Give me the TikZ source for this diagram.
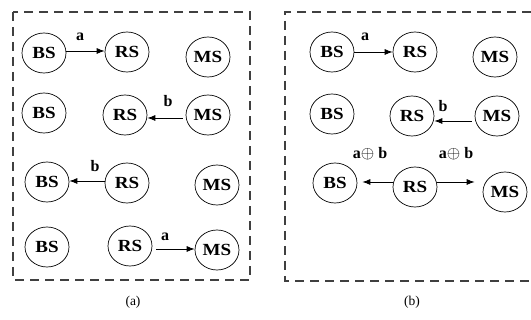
\documentclass[tikz,border=0pt]{standalone}
\usepackage{fontspec}
\setmainfont{Liberation Serif}
\usetikzlibrary{shapes.geometric,arrows.meta}
\newcommand{\mylbl}[1]{\scalebox{1.12}[1]{\textbf{#1}}}
\begin{document}
\begin{tikzpicture}[x=1pt,y=-1pt,
  st/.style={ellipse,draw,line width=0.7pt,minimum width=44pt,minimum height=40pt,inner sep=0pt,font=\fontsize{17}{17}\selectfont},
  arr/.style={-{Latex[length=8pt,width=6pt]},line width=0.8pt},
  lab/.style={font=\fontsize{16}{16}\selectfont\bfseries,inner sep=0pt},
  dashframe/.style={dash pattern=on 9pt off 6pt,line width=1.3pt,draw=black!75},
  captext/.style={font=\fontsize{13.5}{13.5}\selectfont,inner sep=0pt}]
\useasboundingbox (0,0) rectangle (531,320);
% frames
\draw[dashframe] (13,12) rectangle (250,280);
\draw[dashframe] (531,12) -- (285,12) -- (285,281) -- (531,281);
% left panel
\node[st] (l1b) at (44,53) {\mylbl{BS}};
\node[st] (l1r) at (127,52) {\mylbl{RS}};
\node[st] (l1m) at (208,57) {\mylbl{MS}};
\node[st] (l2b) at (44,113) {\mylbl{BS}};
\node[st] (l2r) at (125,115) {\mylbl{RS}};
\node[st] (l2m) at (208,115) {\mylbl{MS}};
\node[st] (l3b) at (47,182) {\mylbl{BS}};
\node[st] (l3r) at (127,183) {\mylbl{RS}};
\node[st] (l3m) at (217,185) {\mylbl{MS}};
\node[st] (l4b) at (47,247) {\mylbl{BS}};
\node[st] (l4r) at (130,246) {\mylbl{RS}};
\node[st] (l4m) at (217,250) {\mylbl{MS}};
\draw[arr] ([yshift=2pt]l1b.east) -- ([yshift=2pt]l1b.east -| l1r.west);
\draw[arr,shorten <=3pt] ([yshift=-3pt]l2m.west) -- ([yshift=-3pt]l2m.west -| l2r.east);
\draw[arr] ([yshift=2pt]l3r.west) -- ([yshift=2pt]l3r.west -| l3b.east);
\draw[arr,shorten <=4pt] ([yshift=-3pt]l4r.east) -- ([yshift=-3pt]l4r.east -| l4m.west);
\node[lab] (la1) at (80,37) {a};
\node[lab] (lb2) at (168,101) {b};
\node[lab] (lb3) at (95,166) {b};
\node[lab] (la4) at (165,237) {a};
% right panel
\node[st] (r1b) at (332,52) {\mylbl{BS}};
\node[st] (r1r) at (415,52) {\mylbl{RS}};
\node[st] (r1m) at (495,57) {\mylbl{MS}};
\node[st] (r2b) at (332,114) {\mylbl{BS}};
\node[st] (r2r) at (412,116) {\mylbl{RS}};
\node[st] (r2m) at (497,116) {\mylbl{MS}};
\node[st] (r3b) at (335,183) {\mylbl{BS}};
\node[st] (r3r) at (415,187) {\mylbl{RS}};
\node[st] (r3m) at (505,192) {\mylbl{MS}};
\draw[arr] (r1b.east) -- (r1b.east -| r1r.west);
\draw[arr,shorten <=3pt] ([yshift=-5pt]r2m.west) -- ([yshift=-5pt]r2m.west -| r2r.east);
\draw[arr,shorten >=5pt] ([yshift=5pt]r3r.west) -- ([yshift=5pt]r3r.west -| r3b.east);
\draw[arr,shorten >=8pt] ([yshift=5pt]r3r.east) -- ([yshift=5pt]r3r.east -| r3m.west);
\node[lab] (ra1) at (365,37) {a};
\node[lab] (rb2) at (443,106) {b};
\node[lab] (rx1) at (370,154) {a$\oplus$ b};
\node[lab] (rx2) at (456,154) {a$\oplus$ b};
% captions
\node[captext] (capa) at (133,302) {(a)};
\node[captext] (capb) at (412,302) {(b)};
\end{tikzpicture}
\end{document}
